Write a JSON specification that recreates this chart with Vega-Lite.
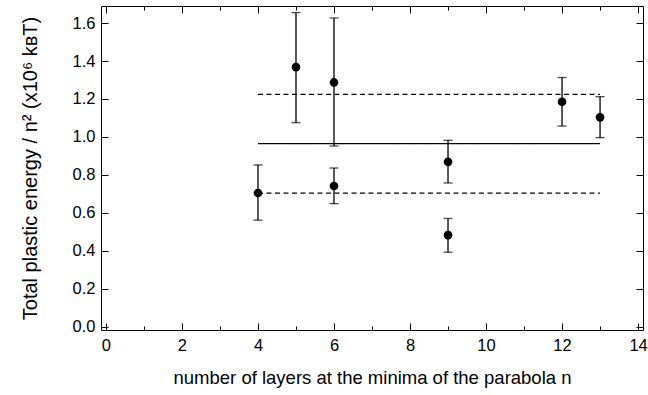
{
  "$schema": "https://vega.github.io/schema/vega-lite/v6.json",
  "width": 542,
  "height": 324,
  "autosize": "none",
  "padding": {"left": 101, "top": 6, "right": 5, "bottom": 65},
  "background": "white",
  "config": {
    "view": {"stroke": "black", "strokeWidth": 1},
    "font": "Liberation Sans",
    "axis": {"domain": false, "grid": false, "tickColor": "black", "tickWidth": 1, "labelColor": "black", "titleColor": "black", "labelFont": "Liberation Sans", "titleFont": "Liberation Sans", "labelFontSize": 16.5, "titleFontSize": 17, "titleFontWeight": "normal"}
  },
  "datasets": {
    "pts": [
      {"n": 4, "e": 0.704, "lo": 0.561, "hi": 0.852},
      {"n": 5, "e": 1.368, "lo": 1.075, "hi": 1.655},
      {"n": 6, "e": 1.287, "lo": 0.952, "hi": 1.627},
      {"n": 6, "e": 0.741, "lo": 0.648, "hi": 0.836},
      {"n": 9, "e": 0.868, "lo": 0.757, "hi": 0.982},
      {"n": 9, "e": 0.482, "lo": 0.392, "hi": 0.57},
      {"n": 12, "e": 1.185, "lo": 1.057, "hi": 1.313},
      {"n": 13, "e": 1.103, "lo": 0.996, "hi": 1.212}
    ],
    "lines": [
      {"kind": "mean", "v": 0.964, "n1": 4, "n2": 13},
      {"kind": "upper", "v": 1.224, "n1": 4, "n2": 13},
      {"kind": "lower", "v": 0.704, "n1": 4, "n2": 13}
    ]
  },
  "layer": [
    {
      "data": {"name": "lines"},
      "mark": {"type": "rule", "color": "black", "strokeWidth": 1.2},
      "encoding": {
        "x": {"field": "n1", "type": "quantitative", "scale": {"domain": [-0.13, 14.13], "nice": false, "zero": false},
          "axis": {"orient": "top", "values": [0,1,2,3,4,5,6,7,8,9,10,11,12,13,14], "labels": false, "title": null,
            "tickSize": {"condition": {"test": "datum.value % 2 === 1", "value": -4}, "value": -7}}},
        "x2": {"field": "n2"},
        "y": {"field": "v", "type": "quantitative", "scale": {"domain": [-0.018, 1.69], "nice": false, "zero": false},
          "axis": {"orient": "right", "values": [0,0.2,0.4,0.6,0.8,1.0,1.2,1.4,1.6], "labels": false, "title": null, "tickSize": -7}},
        "strokeDash": {"field": "kind", "type": "nominal", "scale": {"domain": ["mean", "upper", "lower"], "range": [[1, 0], [5, 3.5], [5, 3.5]]}, "legend": null}
      }
    },
    {
      "data": {"name": "pts"},
      "mark": {"type": "rule", "color": "black", "strokeWidth": 1.3},
      "encoding": {
        "x": {"field": "n", "type": "quantitative", "axis": null},
        "y": {"field": "lo", "type": "quantitative", "axis": null},
        "y2": {"field": "hi"}
      }
    },
    {
      "data": {"name": "pts"},
      "mark": {"type": "tick", "color": "black", "orient": "horizontal", "size": 9, "thickness": 1.3},
      "encoding": {
        "x": {"field": "n", "type": "quantitative", "axis": null},
        "y": {"field": "lo", "type": "quantitative", "axis": null}
      }
    },
    {
      "data": {"name": "pts"},
      "mark": {"type": "tick", "color": "black", "orient": "horizontal", "size": 9, "thickness": 1.3},
      "encoding": {
        "x": {"field": "n", "type": "quantitative", "axis": null},
        "y": {"field": "hi", "type": "quantitative", "axis": null}
      }
    },
    {
      "data": {"name": "pts"},
      "mark": {"type": "point", "filled": true, "color": "black", "opacity": 1, "size": 75},
      "encoding": {
        "x": {"field": "n", "type": "quantitative",
          "axis": {"orient": "bottom", "values": [0,1,2,3,4,5,6,7,8,9,10,11,12,13,14],
            "labelExpr": "datum.value % 2 === 1 ? '' : datum.label",
            "tickSize": {"condition": {"test": "datum.value % 2 === 1", "value": -4}, "value": -7},
            "labelFontSize": 16.5, "labelFont": "Liberation Sans", "labelColor": "black",
            "labelPadding": 14, "title": "number of layers at the minima of the parabola n",
            "titleFontSize": 18.5, "titleFont": "Liberation Sans", "titleFontWeight": "normal", "titleColor": "black", "titlePadding": 15}},
        "y": {"field": "e", "type": "quantitative",
          "axis": {"orient": "left", "values": [0,0.2,0.4,0.6,0.8,1.0,1.2,1.4,1.6], "format": ".1f", "tickSize": -7,
            "labelFontSize": 16.5, "labelFont": "Liberation Sans", "labelColor": "black", "labelPadding": 13,
            "title": "Total plastic energy / n² (x10⁶ kʙT)", "titleFontSize": 20, "titleFont": "Liberation Sans", "titleFontWeight": "normal", "titleColor": "black", "titlePadding": 32}}
      }
    }
  ],
  "resolve": {"axis": {"x": "independent", "y": "independent"}}
}
